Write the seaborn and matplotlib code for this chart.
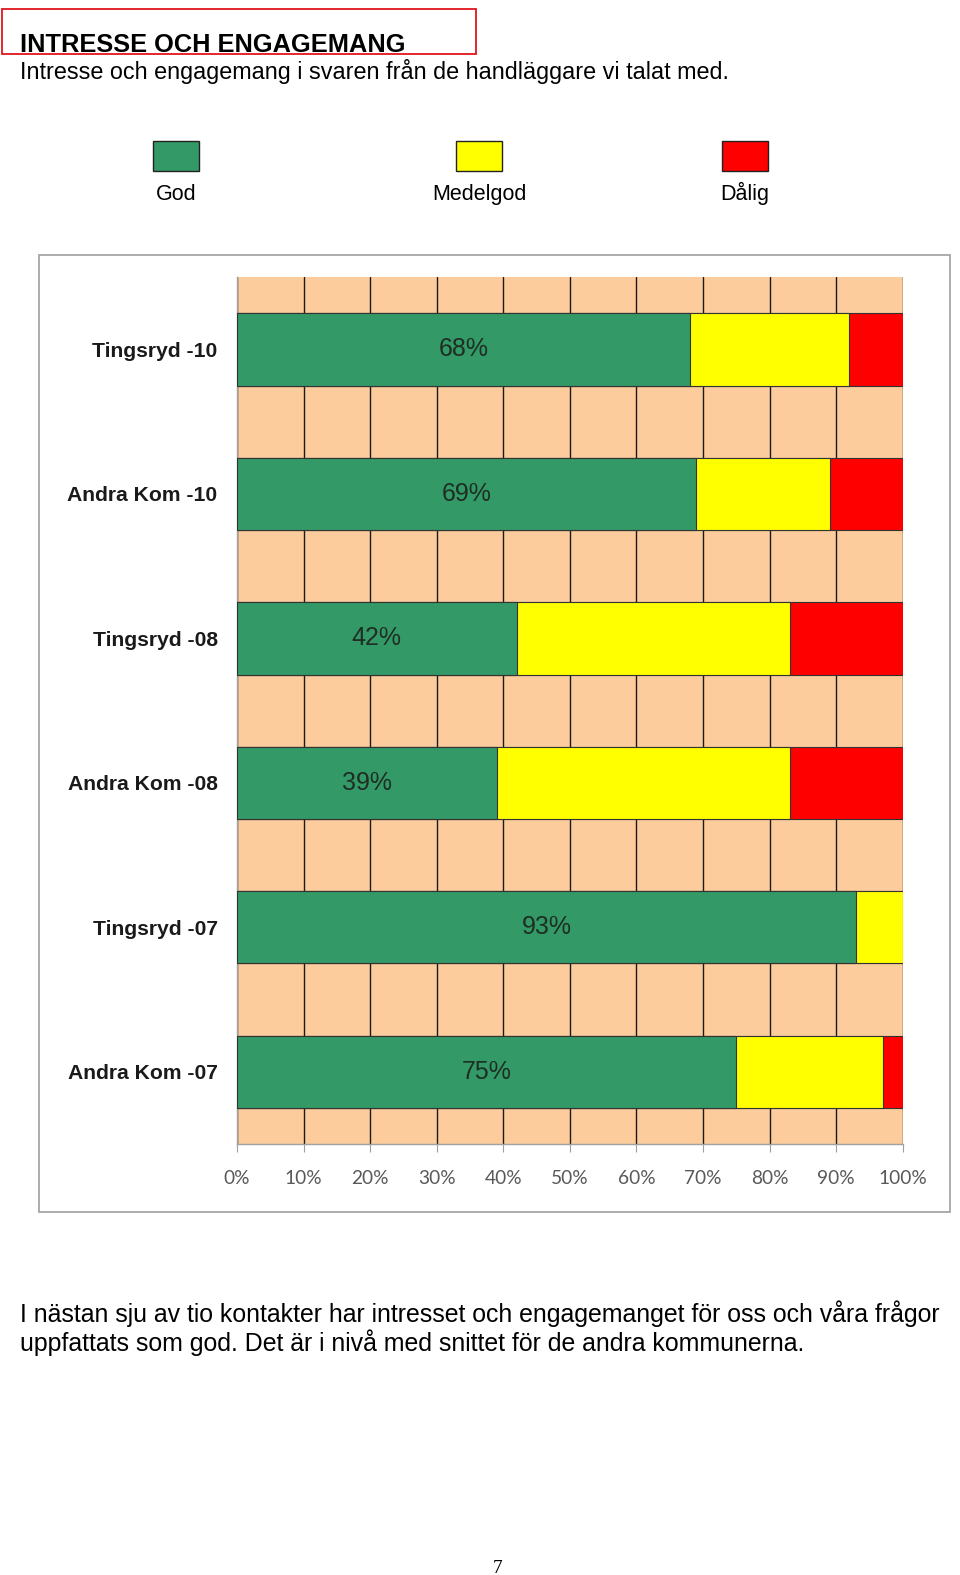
import matplotlib
matplotlib.use('Agg')
import matplotlib.pyplot as plt
import matplotlib.patches as mpatches
import seaborn as sns
import numpy as np
import pandas as pd

# Data (percent)
categories = ['Tingsryd -10', 'Andra Kom -10', 'Tingsryd -08',
              'Andra Kom -08', 'Tingsryd -07', 'Andra Kom -07']
god = [68, 69, 42, 39, 93, 75]
medelgod = [24, 20, 41, 44, 7, 22]
dalig = [8, 11, 17, 17, 0, 3]
x_ticks = [0, 10, 20, 30, 40, 50, 60, 70, 80, 90, 100]
legend_labels = ['God', 'Medelgod', 'Dålig']

colors = {'God': '#339966', 'Medelgod': '#FFFF00', 'Dålig': '#FF0000'}
peach = '#FCCC9C'
sans = ['Liberation Sans', 'DejaVu Sans']

sns.set_style('white')
plt.rcParams['font.family'] = sans
plt.rcParams['text.color'] = 'black'

df = pd.DataFrame({'kategori': categories, 'God': god,
                   'Medelgod': medelgod, 'Dålig': dalig})
df['cum_god'] = df['God']
df['cum_med'] = df['God'] + df['Medelgod']
df['cum_all'] = df['cum_med'] + df['Dålig']

fig = plt.figure(figsize=(9.6, 15.75), dpi=100)
# layout positions measured on a 956x1568 view of the page
W, H = 956, 1568


def fx(px):
    return px / W


def fy(py):
    return 1 - py / H


# Header
fig.patches.append(mpatches.Rectangle((fx(2), fy(54)), fx(472), 45 / H,
                                      fill=False, edgecolor='#E0161B', lw=1.3,
                                      transform=fig.transFigure))
fig.text(fx(20), fy(52), 'INTRESSE OCH ENGAGEMANG', fontsize=18.3,
         fontweight='bold', color='black', va='baseline')
fig.text(fx(20), fy(79), 'Intresse och engagemang i svaren från de handläggare vi talat med.',
         fontsize=16.8, color='black', va='baseline')

# Legend (squares with labels below)
leg_x = [175, 477, 742]
for lab, cx in zip(legend_labels, leg_x):
    fig.patches.append(mpatches.Rectangle((fx(cx - 23), fy(170)), 46 / W, 30 / H,
                                          facecolor=colors[lab], edgecolor='#222222',
                                          lw=1.0, transform=fig.transFigure))
    fig.text(fx(cx), fy(199), lab, fontsize=15.5, color='black',
             ha='center', va='baseline')

# Chart outer frame
fig.patches.append(mpatches.Rectangle((fx(39), fy(1207)), fx(907), (1207 - 254) / H,
                                      fill=False, edgecolor='#A6A6A6', lw=1.3,
                                      transform=fig.transFigure))

ax = fig.add_axes([fx(236), fy(1139), fx(899 - 236), (1139 - 276) / H])
ax.set_facecolor(peach)

order = categories
sns.barplot(data=df, x='cum_all', y='kategori', order=order, orient='h',
            color=colors['Dålig'], saturation=1, width=0.5,
            edgecolor='#333333', linewidth=0.8, ax=ax, zorder=3)
sns.barplot(data=df, x='cum_med', y='kategori', order=order, orient='h',
            color=colors['Medelgod'], saturation=1, width=0.5,
            edgecolor='#333333', linewidth=0.8, ax=ax, zorder=3)
sns.barplot(data=df, x='cum_god', y='kategori', order=order, orient='h',
            color=colors['God'], saturation=1, width=0.5,
            edgecolor='#333333', linewidth=0.8, ax=ax, zorder=3)

for i, g in enumerate(god):
    ax.text(g / 2, i, f'{g}%', ha='center', va='center', fontsize=18,
            color='#1E2E24', zorder=5)

ax.set_xlim(0, 100)
ax.set_ylim(len(categories) - 0.5, -0.5)
ax.set_xticks(x_ticks)
ax.set_xticklabels([f'{t}%' for t in x_ticks], family=['Lato', 'DejaVu Sans'],
                   fontsize=13.8, color='#595959')
ax.xaxis.grid(True, color='#1A1A1A', lw=1.0, zorder=1)
ax.yaxis.grid(False)
ax.set_axisbelow(True)
ax.set_xlabel('')
ax.set_ylabel('')

ax.set_yticks(range(len(categories)))
ax.set_yticklabels(categories, fontweight='bold', fontsize=15.2, color='#1A1A1A')
ax.set_yticks(np.arange(-0.5, len(categories), 1), minor=True)
ax.tick_params(axis='y', which='major', length=0, pad=14)
ax.tick_params(axis='y', which='minor', length=6, color='#A0A0A0', direction='out')
ax.tick_params(axis='x', which='major', length=6, color='#A0A0A0', direction='out',
               pad=13, bottom=True)

for side in ['top', 'right']:
    ax.spines[side].set_visible(False)
for side in ['left', 'bottom']:
    ax.spines[side].set_color('#A0A0A0')
    ax.spines[side].set_linewidth(1.0)

# Footer text
fig.text(fx(20), fy(1316), 'I nästan sju av tio kontakter har intresset och engagemanget för oss och våra frågor',
         fontsize=17.9, color='black', va='baseline')
fig.text(fx(20), fy(1345), 'uppfattats som god. Det är i nivå med snittet för de andra kommunerna.',
         fontsize=17.9, color='black', va='baseline')
fig.text(fx(496), fy(1566), '7', fontsize=14, color='black',
         family=['Liberation Serif', 'DejaVu Serif'], ha='center', va='baseline')

fig.savefig('out.png', dpi=100, facecolor='white')
